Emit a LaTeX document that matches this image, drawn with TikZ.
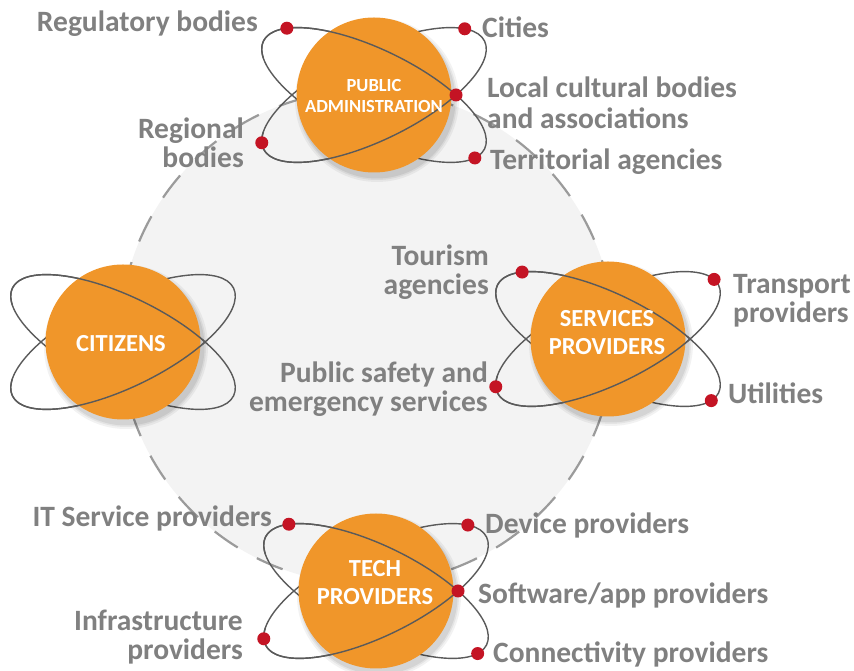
\documentclass[tikz,border=0pt]{standalone}
\usepackage{fontspec}
\setmainfont{Carlito}
\definecolor{hubor}{RGB}{240,150,42}
\definecolor{dotred}{RGB}{196,20,36}
\definecolor{orbitgray}{RGB}{90,90,90}
\definecolor{lblgray}{RGB}{128,128,128}
\definecolor{bggray}{RGB}{243,243,243}
\definecolor{dashgray}{RGB}{155,155,155}
\newcommand\lblfont{\fontsize{29.5}{24.5}\selectfont\bfseries}
\newcommand\bighubfont{\fontsize{24.5}{28}\selectfont\bfseries}
\newcommand\smallhubfont{\fontsize{18.5}{21}\selectfont\bfseries}
\tikzset{
  orbit/.style={draw=orbitgray, line width=1.4pt},
  hubdisc/.style={circle, fill=hubor, minimum size=155pt, inner sep=0pt},
  reddot/.style={circle, fill=dotred, minimum size=13pt, inner sep=0pt},
  lbl/.style={text=lblgray, inner sep=0pt, font=\lblfont},
  hubtxt/.style={text=white, inner sep=0pt},
  bigring/.style={circle, fill=bggray, draw=dashgray, line width=2.2pt, dash pattern=on 28pt off 22pt, minimum size=494pt, inner sep=0pt},
}
\newcommand\backorbits[1]{%
  \draw[orbit, shift={(#1)}, rotate=-26] (0,0) ellipse [x radius=123, y radius=45];
  \draw[orbit, shift={(#1)}, rotate=26] (0,0) ellipse [x radius=123, y radius=45];
}
\newcommand\frontorbits[1]{%
  \draw[orbit, shift={(#1)}, rotate=-26] (53:123 and 45) arc[start angle=53, end angle=200, x radius=123, y radius=45];
  \draw[orbit, shift={(#1)}, rotate=26] (-53:123 and 45) arc[start angle=-53, end angle=-200, x radius=123, y radius=45];
}
\newcommand\hubshadow[1]{%
  \foreach \rr/\op in {82/0.05,80/0.06,78.5/0.07}{\fill[black, opacity=\op] ([shift={(3,-5)}]#1) circle (\rr);}
}
\begin{document}
\begin{tikzpicture}[x=1pt, y=1pt]
\useasboundingbox (0,0) rectangle (854,671);
\node[bigring] (ring) at (367,334) {};
% hub centres
\coordinate (pa-c) at (374,576);
\coordinate (ci-c) at (123,329);
\coordinate (sp-c) at (608,332);
\coordinate (tp-c) at (376,80);
% back orbits
\backorbits{pa-c}
\backorbits{ci-c}
\backorbits{sp-c}
\backorbits{tp-c}
% shadows and discs
\hubshadow{pa-c}
\hubshadow{ci-c}
\hubshadow{sp-c}
\hubshadow{tp-c}
\node[hubdisc] (pa) at (pa-c) {};
\node[hubdisc] (ci) at (ci-c) {};
\node[hubdisc] (sp) at (sp-c) {};
\node[hubdisc] (tp) at (tp-c) {};
% front orbits
\frontorbits{pa-c}
\frontorbits{ci-c}
\frontorbits{sp-c}
\frontorbits{tp-c}
% hub texts
\node[hubtxt, anchor=base, font=\smallhubfont] (pa-t) at (374,579) {\begin{tabular}[t]{@{}c@{}}PUBLIC\\ADMINISTRATION\end{tabular}};
\node[hubtxt, anchor=base, font=\bighubfont] (ci-t) at (121,319) {CITIZENS};
\node[hubtxt, anchor=base, font=\bighubfont] (sp-t) at (607,344) {\begin{tabular}[t]{@{}c@{}}SERVICES\\PROVIDERS\end{tabular}};
\node[hubtxt, anchor=base, font=\bighubfont] (tp-t) at (375,94) {\begin{tabular}[t]{@{}c@{}}TECH\\PROVIDERS\end{tabular}};
% dots: public administration
\begin{scope}[shift={(pa-c)}, rotate=-26]
  \node[reddot] (pa-d1) at (151:123 and 45) {};
  \node[reddot] (pa-d2) at (-16:123 and 45) {};
\end{scope}
\begin{scope}[shift={(pa-c)}, rotate=26]
  \node[reddot] (pa-d3) at (172:123 and 45) {};
  \node[reddot] (pa-d4) at (26:123 and 45) {};
\end{scope}
\node[reddot] (pa-d5) at ([xshift=82pt]pa-c) {};
% dots: services providers
\begin{scope}[shift={(sp-c)}, rotate=-26]
  \node[reddot] (sp-d1) at (150:123 and 45) {};
  \node[reddot] (sp-d2) at (-13:123 and 45) {};
\end{scope}
\begin{scope}[shift={(sp-c)}, rotate=26]
  \node[reddot] (sp-d3) at (172:123 and 45) {};
  \node[reddot] (sp-d4) at (9:123 and 45) {};
\end{scope}
% dots: tech providers
\begin{scope}[shift={(tp-c)}, rotate=-26]
  \node[reddot] (tp-d1) at (151:123 and 45) {};
  \node[reddot] (tp-d2) at (-15:123 and 45) {};
\end{scope}
\begin{scope}[shift={(tp-c)}, rotate=26]
  \node[reddot] (tp-d3) at (172:123 and 45) {};
  \node[reddot] (tp-d4) at (25:123 and 45) {};
\end{scope}
\node[reddot] (tp-d5) at ([xshift=82pt]tp-c) {};
% labels
\node[lbl, anchor=base east] (l-reg) at (258,639) {Regulatory bodies};
\node[lbl, anchor=base west] (l-cit) at (482,633) {Cities};
\node[lbl, anchor=base west] (l-loc) at (487,573) {\begin{tabular}[t]{@{}l@{}}Local cultural bodies\\[2pt]and associations\end{tabular}};
\node[lbl, anchor=base west] (l-ter) at (490,501) {Territorial agencies};
\node[lbl, anchor=base east] (l-regio) at (244,532) {\begin{tabular}[t]{@{}r@{}}Regional\\bodies\end{tabular}};
\node[lbl, anchor=base east] (l-tour) at (489,405) {\begin{tabular}[t]{@{}r@{}}Tourism\\agencies\end{tabular}};
\node[lbl, anchor=base west] (l-trans) at (733,377) {\begin{tabular}[t]{@{}l@{}}Transport\\providers\end{tabular}};
\node[lbl, anchor=base east] (l-pub) at (488,288) {\begin{tabular}[t]{@{}r@{}}Public safety and\\emergency services\end{tabular}};
\node[lbl, anchor=base west] (l-util) at (728,267) {Utilities};
\node[lbl, anchor=base east] (l-it) at (272,144) {IT Service providers};
\node[lbl, anchor=base west] (l-dev) at (485,137) {Device providers};
\node[lbl, anchor=base west] (l-soft) at (478,67) {Software/app providers};
\node[lbl, anchor=base west] (l-conn) at (493,8) {Connectivity providers};
\node[lbl, anchor=base east] (l-inf) at (243,40) {\begin{tabular}[t]{@{}r@{}}Infrastructure\\providers\end{tabular}};
\end{tikzpicture}
\end{document}
